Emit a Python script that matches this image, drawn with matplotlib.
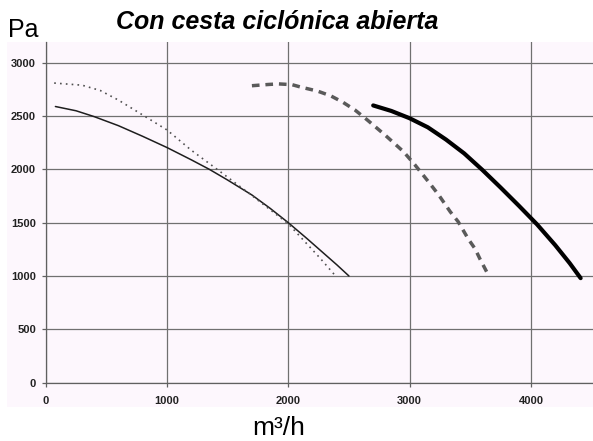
import matplotlib
matplotlib.use("Agg")
import matplotlib.pyplot as plt
from matplotlib.patches import Rectangle

# ---- data ----
thin_x = [80, 250, 400, 600, 800, 1000, 1200, 1350, 1500, 1700, 1850, 2000,
          2150, 2300, 2400, 2500]
thin_y = [2590, 2550, 2495, 2410, 2310, 2205, 2090, 2000, 1900, 1760, 1635, 1500,
          1355, 1205, 1105, 1000]

dot_x = [70, 300, 450, 600, 800, 1000, 1200, 1420, 1700, 2000, 2130, 2260, 2390]
dot_y = [2810, 2790, 2740, 2650, 2510, 2370, 2180, 1995, 1755, 1490, 1330, 1170, 1000]

dash_x = [1700, 1840, 1920, 2030, 2110, 2240, 2350, 2450, 2550, 2650, 2800, 2950,
          3045, 3155, 3240, 3335, 3400, 3485, 3540, 3580, 3635, 3655]
dash_y = [2785, 2797, 2802, 2795, 2770, 2735, 2690, 2630, 2557, 2465, 2320, 2166,
          2041, 1885, 1760, 1603, 1510, 1345, 1255, 1160, 1040, 1000]

thick_x = [2700, 2850, 3000, 3150, 3300, 3450, 3600, 3750, 3900, 4050, 4200, 4320, 4410]
thick_y = [2600, 2548, 2480, 2395, 2280, 2150, 1995, 1830, 1660, 1485, 1290, 1120, 980]

x_ticks = [0, 1000, 2000, 3000, 4000]
y_ticks = [0, 500, 1000, 1500, 2000, 2500, 3000]

title = "Con cesta ciclónica abierta"
y_unit = "Pa"
x_unit = "m³/h"

# ---- figure ----
W, H = 593, 441
fig = plt.figure(figsize=(W / 100, H / 100), dpi=100)
fig.patch.set_facecolor("white")
pink = "#fdf7fd"
bg = Rectangle((7 / W, 1 - 407 / H), 586 / W, 365 / H,
               transform=fig.transFigure, facecolor=pink,
               edgecolor="none", zorder=-10)
fig.patches.append(bg)

left, bottom, top = 45.7, 382.6, 42
ax = fig.add_axes([left / W, 1 - bottom / H, 1 - left / W, (bottom - top) / H])
ax.set_zorder(5)
ax.set_facecolor(pink)
xmax = (W - left) / 0.1213
ymax = (bottom - top) / 0.1066
ax.set_xlim(0, xmax)
ax.set_ylim(0, ymax)

ax.set_xticks(x_ticks)
ax.set_yticks(y_ticks)
ax.set_xticklabels([str(v) for v in x_ticks])
ax.set_yticklabels([str(v) for v in y_ticks])
ax.grid(True, color="#707070", linewidth=0.9)
ax.set_axisbelow(True)
for s in ["top", "right"]:
    ax.spines[s].set_visible(False)
for s in ["left", "bottom"]:
    ax.spines[s].set_color("#606060")
    ax.spines[s].set_linewidth(0.9)
ax.tick_params(axis="both", length=3, width=0.9, color="#606060",
               labelsize=8, labelcolor="#222222")
ax.tick_params(axis="x", pad=7)
ax.tick_params(axis="y", pad=4)
for lab in ax.get_xticklabels() + ax.get_yticklabels():
    lab.set_fontweight("bold")
    lab.set_fontfamily("Liberation Sans")

ax.plot(thin_x, thin_y, color="#1e1e1e", linewidth=1.1, solid_capstyle="round",
        solid_joinstyle="round")
ax.plot(dot_x, dot_y, color="#505050", linewidth=1.2, linestyle=(0, (1, 2.5)))
ax.plot(dash_x, dash_y, color="#5a5a5a", linewidth=2.5, linestyle=(0, (2.2, 1.7)))
ax.plot(thick_x, thick_y, color="black", linewidth=3.0, solid_capstyle="round",
        solid_joinstyle="round")

fig.text(277 / W, 1 - 22 / H, title, ha="center", va="center",
         fontsize=18, fontweight="bold", fontstyle="italic",
         family="Liberation Sans")
fig.text(8 / W, 1 - 37 / H, y_unit, ha="left", va="baseline",
         fontsize=18, family="Liberation Sans")
fig.text(252 / W, 1 - 435 / H, x_unit, ha="left", va="baseline",
         fontsize=19, family="Liberation Sans")

fig.savefig("out.png", dpi=100)
